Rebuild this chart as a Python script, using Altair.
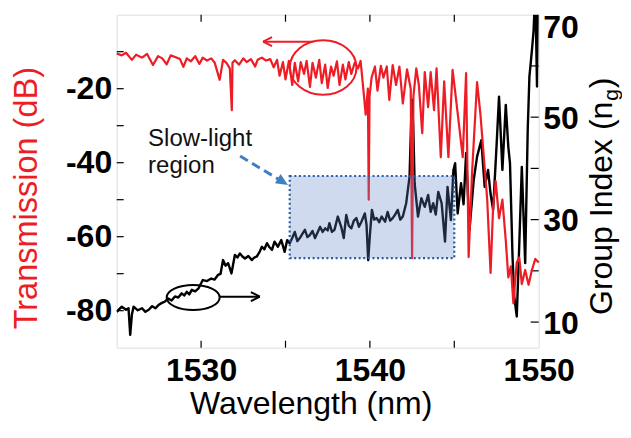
import altair as alt
import pandas as pd

RED = "#ee1c25"
FONT = "Liberation Sans"

# ---------------- data ----------------
red_wl = [1525.0, 1525.3, 1525.55, 1525.9, 1526.15, 1526.5, 1526.8, 1527.15, 1527.45, 1527.7,
          1527.96, 1528.2, 1528.5, 1528.75, 1528.95, 1529.15, 1529.4, 1529.65, 1529.9, 1530.1,
          1530.35, 1530.6, 1530.8, 1531.1, 1531.3, 1531.5, 1531.7, 1531.82, 1531.86, 1532.0,
          1532.25, 1532.5, 1532.7, 1532.95, 1533.2, 1533.35, 1533.6, 1533.85, 1534.1, 1534.3,
          1534.5, 1534.65, 1534.85, 1535.0, 1535.2, 1535.4, 1535.55, 1535.75, 1535.9, 1536.1,
          1536.25, 1536.45, 1536.6, 1536.8, 1537.0, 1537.15, 1537.35, 1537.5, 1537.7, 1537.85,
          1538.05, 1538.2, 1538.4, 1538.55, 1538.75, 1538.9, 1539.1, 1539.3, 1539.45, 1539.65,
          1539.75, 1539.88, 1539.93, 1539.98, 1540.1, 1540.3, 1540.45, 1540.65, 1540.8, 1541.0,
          1541.15, 1541.35, 1541.55, 1541.75, 1541.95, 1542.2, 1542.42, 1542.5, 1542.58, 1542.75,
          1542.9, 1543.1, 1543.25, 1543.45, 1543.6, 1543.8, 1543.95, 1544.2, 1544.4, 1544.65,
          1544.9, 1545.2, 1545.5, 1545.7, 1545.85, 1546.05, 1546.35, 1546.55, 1546.75, 1546.95,
          1547.15, 1547.3, 1547.45, 1547.65, 1547.85, 1548.05, 1548.2, 1548.35, 1548.5, 1548.7,
          1548.85, 1549.0, 1549.2, 1549.4, 1549.6, 1549.8, 1550.0]
red_db = [-10.5, -11.0, -10.3, -12.2, -10.8, -11.6, -10.6, -13.6, -11.2, -11.8,
          -13.4, -11.0, -11.5, -12.0, -14.1, -11.8, -12.6, -11.2, -13.3, -11.6,
          -12.4, -11.8, -12.9, -17.6, -12.2, -13.0, -14.5, -25.8, -13.0, -12.3,
          -13.5, -11.8, -12.8, -12.0, -14.0, -12.2, -11.6, -12.4, -12.0, -14.2,
          -12.2, -16.5, -12.8, -17.5, -12.5, -19.0, -13.0, -18.0, -12.8, -16.0,
          -12.5, -19.5, -13.0, -17.0, -12.2, -18.5, -13.5, -19.8, -14.0, -16.5,
          -12.6, -19.0, -13.5, -17.5, -12.8, -16.0, -13.0, -14.5, -12.5, -22.0,
          -27.0, -20.0, -50.0, -22.0, -17.0, -14.0, -20.5, -13.8, -17.0, -14.0,
          -23.0, -13.6, -19.0, -14.0, -24.0, -14.8, -20.0, -65.8, -22.0, -14.5,
          -19.0, -32.0, -15.5, -25.0, -15.5, -25.8, -14.5, -38.5, -18.0, -38.5,
          -14.9, -26.6, -38.5, -15.8, -65.5, -43.0, -18.2, -27.0, -38.5, -50.0,
          -69.8, -52.0, -45.0, -55.0, -50.0, -61.0, -71.0, -68.0, -78.0, -67.0,
          -65.6, -72.8, -69.0, -73.0, -69.0, -66.0, -67.0]

ng_wl = [1525.0, 1525.3, 1525.55, 1525.7, 1525.8, 1525.9, 1526.0, 1526.25, 1526.5, 1526.7,
         1526.9, 1527.1, 1527.3, 1527.5, 1527.65, 1527.85, 1528.05, 1528.25, 1528.45, 1528.65,
         1528.85, 1529.0, 1529.15, 1529.3, 1529.45, 1529.65, 1529.85, 1530.1, 1530.35, 1530.6,
         1530.8, 1531.0, 1531.15, 1531.3, 1531.45, 1531.6, 1531.8, 1532.0, 1532.15, 1532.3,
         1532.45, 1532.6, 1532.8, 1533.0, 1533.15, 1533.3, 1533.45, 1533.6, 1533.75, 1533.9,
         1534.05, 1534.2, 1534.35, 1534.55, 1534.75, 1534.95, 1535.1, 1535.25, 1535.4, 1535.55,
         1535.7, 1535.85, 1536.0, 1536.15, 1536.3, 1536.45, 1536.6, 1536.75, 1536.9, 1537.05,
         1537.2, 1537.35, 1537.5, 1537.6, 1537.75, 1537.9, 1538.1, 1538.3, 1538.45, 1538.6,
         1538.75, 1538.9, 1539.05, 1539.2, 1539.35, 1539.5, 1539.7, 1539.8, 1539.9, 1540.0,
         1540.12, 1540.25, 1540.4, 1540.55, 1540.7, 1540.9, 1541.05, 1541.2, 1541.35, 1541.5,
         1541.65, 1541.8, 1541.95, 1542.15, 1542.35, 1542.45, 1542.5, 1542.57, 1542.65, 1542.85,
         1543.05, 1543.25, 1543.45, 1543.6, 1543.75, 1543.9, 1544.05, 1544.25, 1544.45, 1544.6,
         1544.8, 1544.95, 1545.05, 1545.2, 1545.4, 1545.55, 1545.7, 1545.9, 1546.15, 1546.35,
         1546.6, 1546.8, 1547.0, 1547.15, 1547.3, 1547.5, 1547.65, 1547.85, 1548.05, 1548.2,
         1548.3, 1548.45, 1548.55, 1548.7, 1548.8, 1549.0, 1549.2, 1549.35, 1549.45, 1549.6,
         1549.7, 1549.8, 1549.9, 1549.97]
ng_val = [12.0, 13.0, 12.4, 12.7, 7.5, 11.5, 13.0, 12.3, 12.7, 12.0,
          12.4, 13.1, 12.7, 13.4, 13.7, 14.0, 14.6, 14.2, 15.0, 14.8,
          15.6, 15.2, 15.9, 15.4, 16.3, 16.0, 16.6, 18.2, 18.0, 18.5,
          18.3, 19.2, 19.4, 22.1, 21.0, 21.5, 19.5, 23.1, 22.6, 23.4,
          22.8, 22.4, 22.9, 22.1, 22.6, 22.8, 23.6, 24.7, 24.2, 25.4,
          24.6, 24.1, 25.7, 24.7, 26.0, 23.7, 26.0, 25.4, 26.4, 27.6,
          25.8, 26.4, 27.2, 28.0, 26.6, 27.0, 27.8, 26.4, 27.5, 28.6,
          27.6, 28.3, 27.9, 29.3, 27.6, 28.0, 30.6, 28.6, 26.4, 30.9,
          28.8, 28.3, 29.8, 30.3, 28.6, 29.6, 31.2, 29.0, 22.1, 27.0,
          31.9, 30.0, 30.3, 29.5, 30.6, 29.6, 31.5, 29.8, 30.3, 31.0,
          31.9, 30.0, 30.6, 33.2, 38.4, 50.0, 53.4, 48.0, 37.1, 30.6,
          34.2, 32.5, 34.8, 31.5, 33.2, 31.0, 35.4, 33.2, 25.7, 36.4,
          29.9, 39.7, 41.0, 31.2, 37.1, 33.0, 43.0, 28.0, 37.7, 42.3,
          45.5, 36.4, 39.7, 35.0, 31.9, 44.2, 54.0, 39.7, 52.4, 44.2,
          41.0, 22.8, 15.0, 11.1, 20.2, 40.3, 21.5, 47.5, 57.9, 63.1,
          67.0, 75.0, 56.0, 75.0]

x_tick_vals = [1530, 1535, 1540, 1545]
x_label_vals = [1530, 1540, 1550]
db_tick_vals = [-10, -20, -30, -40, -50, -60, -70, -80]
db_label_vals = [-20, -40, -60, -80]
ng_tick_vals = [10, 20, 30, 40, 50, 60]
ng_label_vals = [10, 30, 50, 70]

# annotations (data coordinates)
box_wl = [1535.25, 1545.0]
box_db = [-43.6, -65.8]
note_lines = ["Slow-light", "region"]
note_wl = [1526.86, 1526.86]
note_db = [-35.5, -42.8]
blue_arrow_wl = [1532.31, 1534.8]
blue_arrow_db = [-38.2, -45.05]
blue_tip = [1535.15, -46.0]
red_ell = [1537.23, -14.27]
red_arrow_wl = [1536.63, 1533.67]
red_arrow_db = -7.3
blk_ell = [1529.53, -76.43]
blk_arrow_wl = [1531.11, 1533.48]
blk_arrow_db = -76.2

W, H = 422, 333

xs = alt.Scale(domain=[1525, 1550], nice=False, zero=False)
ysl = alt.Scale(domain=[-90, 0], nice=False, zero=False)
ysr = alt.Scale(domain=[5, 70], nice=False, zero=False)

x_axis = alt.Axis(values=x_label_vals, format="d", labelFont=FONT, labelFontSize=32,
                  labelFontWeight="bold", labelColor="black", labelPadding=8,
                  labelFlush=False, labelOverlap=False, ticks=False, domain=False, grid=False,
                  title="Wavelength (nm)", titleFont=FONT, titleFontSize=32,
                  titleFontWeight="normal", titleColor="black", titleX=194, titleY=41,
                  titleBaseline="top", titleAlign="center")
left_axis = alt.Axis(orient="left", values=db_label_vals, labelExpr="'' + datum.value",
                     labelFont=FONT, labelFontSize=32, labelFontWeight="bold",
                     labelColor="black", labelPadding=5, labelFlush=False, labelOverlap=False,
                     ticks=False, domain=False, grid=False, title="Transmission (dB)",
                     titleFont=FONT, titleFontSize=32.5, titleFontWeight="normal",
                     titleColor=RED, titleAngle=270, titleX=-80, titleY=183,
                     titleBaseline="alphabetic", titleAlign="center")
right_axis = alt.Axis(orient="right", values=ng_label_vals, labelExpr="'' + datum.value",
                      labelFont=FONT, labelFontSize=32, labelFontWeight="bold",
                      labelColor="black", labelPadding=4, labelFlush=False,
                      labelOverlap=False, ticks=False, domain=False, grid=False, title=None,
                      labelOffset={"condition": {"test": "datum.value == 70", "value": 12.5},
                                   "value": 1})

X = alt.X("wl:Q", scale=xs, axis=x_axis)
X2 = alt.X2("wl2")
YL = alt.Y("db:Q", scale=ysl, axis=left_axis)
YL2 = alt.Y2("db2")
YR = alt.Y("ng:Q", scale=ysr, axis=right_axis)

red_df = pd.DataFrame({"wl": red_wl, "db": red_db})
ng_df = pd.DataFrame({"wl": ng_wl, "ng": ng_val})

black_line = alt.Chart(ng_df).mark_line(color="black", strokeWidth=2.4, clip=True,
                                        strokeJoin="round").encode(x=X, y=YR)
right_ticks = alt.Chart(pd.DataFrame({"ng": ng_tick_vals})).mark_rule(
    color="black", strokeWidth=1.2).encode(y=YR, x=alt.value(W - 8), x2=alt.value(W))
right_layer = alt.layer(black_line, right_ticks)

red_line = alt.Chart(red_df).mark_line(color=RED, strokeWidth=2.2,
                                       strokeJoin="round").encode(x=X, y=YL)

box = alt.Chart(pd.DataFrame({"wl": [box_wl[0]], "wl2": [box_wl[1]],
                              "db": [box_db[0]], "db2": [box_db[1]]})).mark_rect(
    fill="#6485c8", fillOpacity=0.3, stroke="#2a5da8", strokeWidth=2.2,
    strokeDash=[2, 2.6]).encode(x=X, x2=X2, y=YL, y2=YL2)

notes = alt.Chart(pd.DataFrame({"wl": note_wl, "db": note_db, "t": note_lines})).mark_text(
    font=FONT, fontSize=24, color="#111111", align="left", baseline="alphabetic").encode(
    x=X, y=YL, text="t:N")

blue_arrow = alt.Chart(pd.DataFrame({"wl": [blue_arrow_wl[0]], "wl2": [blue_arrow_wl[1]],
                                     "db": [blue_arrow_db[0]], "db2": [blue_arrow_db[1]]})).mark_rule(
    color="#3f7fc4", strokeWidth=3, strokeDash=[9, 5]).encode(x=X, x2=X2, y=YL, y2=YL2)
blue_head = alt.Chart(pd.DataFrame({"wl": [blue_tip[0]], "db": [blue_tip[1]]})).mark_point(
    shape="M0,0L-2,-0.9L-2,0.9Z", filled=True, color="#3f7fc4", opacity=1, size=144,
    angle=31).encode(x=X, y=YL)


def ellipse_path(r):
    k = 0.5523
    a = round(k * r, 4)
    return (f"M-1,0C-1,-{a} -{k},-{r} 0,-{r}C{k},-{r} 1,-{a} 1,0"
            f"C1,{a} {k},{r} 0,{r}C-{k},{r} -1,{a} -1,0Z")


red_ellipse = alt.Chart(pd.DataFrame({"wl": [red_ell[0]], "db": [red_ell[1]]})).mark_point(
    shape=ellipse_path(0.82), filled=False, color=RED, strokeWidth=2, opacity=1,
    size=4449).encode(x=X, y=YL)
red_arrow = alt.Chart(pd.DataFrame({"wl": [red_arrow_wl[0]], "wl2": [red_arrow_wl[1]],
                                    "db": [red_arrow_db], "db2": [red_arrow_db]})).mark_rule(
    color=RED, strokeWidth=2).encode(x=X, x2=X2, y=YL, y2=YL2)
red_head = alt.Chart(pd.DataFrame({"wl": [red_arrow_wl[1]], "db": [red_arrow_db]})).mark_point(
    shape="M0,0L2,-1M0,0L2,1", filled=False, color=RED, strokeWidth=2, opacity=1,
    size=81).encode(x=X, y=YL)

blk_ellipse = alt.Chart(pd.DataFrame({"wl": [blk_ell[0]], "db": [blk_ell[1]]})).mark_point(
    shape=ellipse_path(0.47), filled=False, color="black", strokeWidth=2, opacity=1,
    size=2809).encode(x=X, y=YL)
blk_arrow = alt.Chart(pd.DataFrame({"wl": [blk_arrow_wl[0]], "wl2": [blk_arrow_wl[1]],
                                    "db": [blk_arrow_db], "db2": [blk_arrow_db]})).mark_rule(
    color="black", strokeWidth=2).encode(x=X, x2=X2, y=YL, y2=YL2)
blk_head = alt.Chart(pd.DataFrame({"wl": [blk_arrow_wl[1]], "db": [blk_arrow_db]})).mark_point(
    shape="M0,0L-2,-1M0,0L-2,1", filled=False, color="black", strokeWidth=2, opacity=1,
    size=81).encode(x=X, y=YL)

left_ticks = alt.Chart(pd.DataFrame({"db": db_tick_vals})).mark_rule(
    color="black", strokeWidth=1.2).encode(y=YL, x=alt.value(0), x2=alt.value(7))
xt_df = pd.DataFrame({"wl": x_tick_vals})
bottom_ticks = alt.Chart(xt_df).mark_rule(color="black", strokeWidth=1.2).encode(
    x=X, y=alt.value(H), y2=alt.value(H - 7))
top_ticks = alt.Chart(xt_df).mark_rule(color="black", strokeWidth=1.2).encode(
    x=X, y=alt.value(0), y2=alt.value(7))

# right axis title with subscript, as text
rt = alt.Chart(pd.DataFrame({"t": ["Group Index (n"]})).mark_text(
    font=FONT, fontSize=32, color="black", angle=270, align="left",
    baseline="alphabetic").encode(text="t:N", x=alt.value(495.3), y=alt.value(300.3))
rt_sub = alt.Chart(pd.DataFrame({"t": ["g"]})).mark_text(
    font=FONT, fontSize=21, color="black", angle=270, align="left",
    baseline="alphabetic").encode(text="t:N", x=alt.value(501.3), y=alt.value(86.0))
rt_par = alt.Chart(pd.DataFrame({"t": [")"]})).mark_text(
    font=FONT, fontSize=32, color="black", angle=270, align="left",
    baseline="alphabetic").encode(text="t:N", x=alt.value(495.3), y=alt.value(73.5))

left_layer = alt.layer(red_line, box, notes, blue_arrow, blue_head, red_ellipse, red_arrow,
                       red_head, blk_ellipse, blk_arrow, blk_head, left_ticks, bottom_ticks,
                       top_ticks, rt, rt_sub, rt_par)

chart = alt.layer(right_layer, left_layer).resolve_scale(y="independent").properties(
    width=W, height=H,
    autosize=alt.AutoSizeParams(type="none"),
    padding={"left": 108.7, "top": 6.7, "right": 83, "bottom": 80},
).configure_view(stroke="black", strokeWidth=1.5).configure(font=FONT)

chart.save("out.html", embed_options={"renderer": "svg", "actions": False})
